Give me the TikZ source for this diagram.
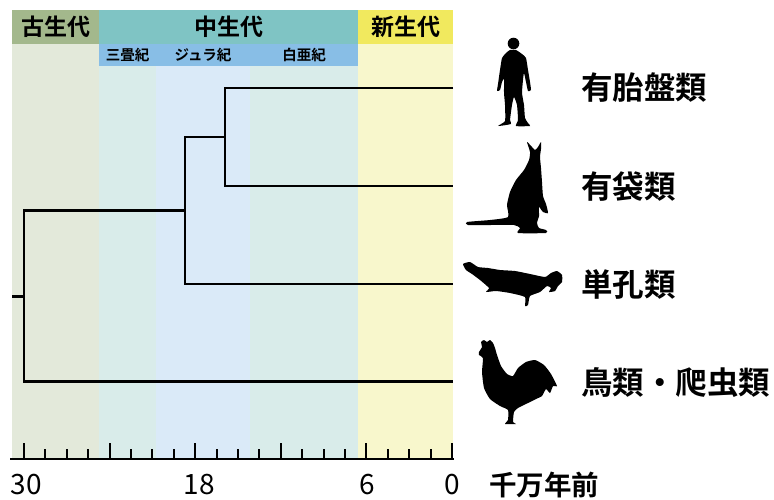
\documentclass[tikz,border=0pt]{standalone}
\usepackage{fontspec}
\setmainfont{Noto Sans CJK JP}[BoldFont={* Bold}]
\usepackage{tikz}
\usetikzlibrary{arrows.meta, positioning, calc}
\usepackage{xcolor}
\definecolor{paleoHd}{HTML}{A3B88C}
\definecolor{mesoHd}{HTML}{7FC4C4}
\definecolor{cenoHd}{HTML}{F1E95E}
\definecolor{periodHd}{HTML}{88BEE6}
\definecolor{paleoBg}{HTML}{E3E9DA}
\definecolor{tealBg}{HTML}{D9ECEA}
\definecolor{blueBg}{HTML}{DAEAF8}
\definecolor{cenoBg}{HTML}{F8F7CC}

\begin{document}
\begin{tikzpicture}[x=1pt, y=-1pt,
    era/.style={minimum height=34pt, inner sep=0, font=\fontsize{23}{26}\selectfont\bfseries},
    period/.style={fill=periodHd, minimum height=22pt, inner sep=0, font=\fontsize{14.5}{16}\selectfont\bfseries},
    taxon/.style={anchor=west, inner sep=0, font=\fontsize{31.5}{34}\selectfont\bfseries},
    ticklab/.style={inner sep=0, font=\fontsize{28}{32}\selectfont},
    branch/.style={line width=2.7pt, line join=miter},
    tick/.style={line width=2pt},
    animal/.style={fill=black}]
\useasboundingbox (0,0) rectangle (774,499);
% time bands
\fill[paleoBg] (12,44) rectangle (99,458);
\fill[tealBg]  (99,66) rectangle (156,458);
\fill[blueBg]  (156,66) rectangle (250,458);
\fill[tealBg]  (250,66) rectangle (358,458);
\fill[cenoBg]  (358,44) rectangle (453,458);
\node[era, fill=paleoHd, minimum width=87pt]  (paleo) at (55.5,27) {古生代};
\node[era, fill=mesoHd,  minimum width=259pt] (meso)  at (228.5,27) {中生代};
\node[era, fill=cenoHd,  minimum width=95pt]  (ceno)  at (405.5,27) {新生代};
\node[period, minimum width=57pt]  (tri) at (127.5,55) {三畳紀};
\node[period, minimum width=94pt]  (jur) at (203,55) {ジュラ紀};
\node[period, minimum width=108pt] (cre) at (304,55) {白亜紀};
% tree
\coordinate (stub) at (12,296.5);
\coordinate (root) at (24,296.5);
\coordinate (mam)  at (185,210.5);
\coordinate (ther) at (225,137);
\coordinate (placT) at (453,88);
\coordinate (marsT) at (453,186);
\coordinate (monoT) at (453,284);
\coordinate (birdT) at (453,381.5);
\draw[branch] (stub) -- (root);
\draw[branch] (mam) -| (root) |- (birdT);
\draw[branch] (ther) -| (mam) |- (monoT);
\draw[branch] (placT) -| (ther) |- (marsT);
% time axis
\coordinate (axL) at (10,459);
\coordinate (axR) at (454,459);
\draw[line width=2.7pt] (axL) -- (axR);
\foreach \i in {0,...,20} {
  \pgfmathsetmacro{\tx}{452-\i*21.4}
  \pgfmathsetmacro{\ty}{ifthenelse(mod(\i,4)==0,443,449)}
  \draw[tick] (\tx,459) -- (\tx,\ty);
}
\node[ticklab] (t30) at (26,485) {30};
\node[ticklab] (t18) at (199,485) {18};
\node[ticklab] (t6)  at (367,485) {6};
\node[ticklab] (t0)  at (452,485) {0};
\node[ticklab, anchor=west, font=\fontsize{27.5}{32}\selectfont\bfseries] (unit) at (489,485) {千万年前};
% taxa
\node[taxon] (plac) at (581,88)  {有胎盤類};
\node[taxon] (mars) at (581,187) {有袋類};
\node[taxon] (mono) at (581,284) {単孔類};
\node[taxon] (bird) at (581,383) {鳥類・爬虫類};
% silhouettes
\fill[animal] (513.5,43.5) circle (5.8);
\fill[animal] plot[smooth cycle, tension=0.3] coordinates {
  (510,50) (516,50) (522,54) (526,58) (528,70) (530,82) (531,90) (528,91)
  (526,82) (524,73) (523,80) (522,93) (524,105) (525,118) (528,123) (530,126)
  (516,126) (518,120) (517,105) (514,97) (512,105) (510,120) (511,124) (498,126)
  (505,121) (505,105) (504,93) (504,79) (502,82) (500,90) (497,91) (498,84)
  (500,70) (502,58) (506,53)};
\fill[animal] plot[smooth cycle, tension=0.35] coordinates {
  (467,222) (490,220) (508,217) (507,205) (510,192) (516,180) (524,170)
  (529,160) (530,152) (527,142) (532,147) (535,150) (538,147) (541,142)
  (541,149) (540,157) (541,168) (542,182) (543,196) (546,204) (548,213)
  (543,212) (539,207) (539,216) (537,223) (539,228) (546,230) (546,233)
  (518,233) (520,228) (514,225) (490,225) (468,225)};
\fill[animal] plot[smooth cycle, tension=0.3] coordinates {
  (463,264) (470,262) (478,267) (488,268) (500,270) (515,271) (530,274)
  (545,277) (551,273) (557,271) (562,275) (562,282) (558,286) (555,291)
  (549,292) (551,288) (547,286) (540,292) (530,296) (528,305) (525,306)
  (525,297) (510,293) (496,291) (486,292) (489,288) (480,280) (472,274)
  (466,270)};
\fill[animal] plot[smooth cycle, tension=0.3] coordinates {
  (479,352) (482,347) (481,342) (484,340) (487,342) (490,340) (493,343)
  (495,348) (497,355) (501,366) (507,374) (513,376) (518,368) (526,362)
  (535,360) (544,365) (551,374) (557,386) (553,386) (550,393) (546,389)
  (542,396) (536,399) (528,403) (518,408) (514,412) (513,422) (516,424)
  (505,424) (508,420) (508,410) (500,406) (490,399) (484,388) (482,372)
  (483,358) (479,355)};
\end{tikzpicture}
\end{document}
